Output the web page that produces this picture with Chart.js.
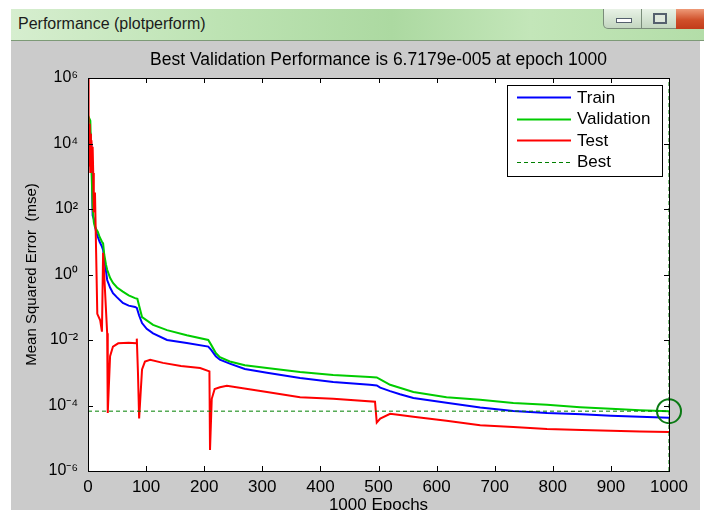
<!DOCTYPE html>
<html>
<head>
<meta charset="utf-8">
<title>Performance (plotperform)</title>
<script src="https://cdn.jsdelivr.net/npm/chart.js@4.4.1/dist/chart.umd.min.js"></script>
<style>
  html, body { margin: 0; padding: 0; background: #fff; overflow: hidden; }
  body { width: 704px; height: 510px; position: relative; font-family: "Liberation Sans", Arial, sans-serif; }
  .titlebar {
    position: absolute; left: 11px; top: 9px; width: 693px; height: 31px;
    background: linear-gradient(90deg, #d6eecf 0%, #bde3b3 30%, #acd9a1 55%, #c3e6b9 75%, #b3dda8 100%);
    border-bottom: 1px solid #7d9a77;
  }
  .titlebar span { position: absolute; left: 7px; top: 6px; font-size: 16px; color: #1b1b1b; }
  .btn { position: absolute; top: 0; height: 20px; border: 1px solid #7a8c7a; border-top: none; box-sizing: border-box; }
  .btn.min { left: 592px; width: 39px; border-radius: 0 0 0 5px; background: linear-gradient(#e8f2e6, #c3d6c0); }
  .btn.max { left: 630px; width: 36px; background: linear-gradient(#e8f2e6, #c3d6c0); }
  .btn.close { left: 665px; width: 30px; border: none; background: linear-gradient(#ee9a78, #d0502a 55%, #c23c1a); }
  .btn.min i { position: absolute; left: 12px; top: 9px; width: 14px; height: 3px; border: 1px solid #55606e; background: #fff; }
  .btn.max i { position: absolute; left: 11px; top: 4px; width: 10px; height: 7px; border: 2px solid #55606e; background: #dfe8dd; }
  .figure { position: absolute; left: 11px; top: 41px; width: 689px; height: 469px; background: #cbcbcb; }
  .chart-box { position: absolute; left: 0; top: 0; width: 704px; height: 530px; }
</style>
</head>
<body>
<div class="titlebar"><span>Performance (plotperform)</span>
  <div class="btn min"><i></i></div><div class="btn max"><i></i></div><div class="btn close"></div>
</div>
<div class="figure"></div>
<div class="chart-box"><canvas id="perfChart"></canvas></div>
<script>
// values (epoch, mse)
const trainEpochs = [0, 2, 4, 6, 8, 10, 14, 17, 20, 24, 26, 28, 31, 33, 38, 43, 50, 60, 70, 81, 84, 88, 93, 101, 112, 136, 170, 207, 212, 220, 227, 244, 270, 308, 365, 422, 485, 497, 503, 520, 537, 560, 620, 675, 732, 790, 850, 900, 950, 1000];
const trainMse = [2.5e4, 3.2e4, 2.0e4, 7.9e3, 63, 50, 20, 14, 10, 7.1, 5.6, 2.8, 1.26, 0.68, 0.40, 0.27, 0.20, 0.135, 0.112, 0.102, 0.095, 0.056, 0.033, 0.022, 0.016, 0.010, 8.1e-3, 6.3e-3, 5.0e-3, 3.2e-3, 2.5e-3, 1.9e-3, 1.3e-3, 1.0e-3, 6.9e-4, 5.2e-4, 4.3e-4, 4.1e-4, 3.5e-4, 2.75e-4, 2.2e-4, 1.7e-4, 1.2e-4, 8.7e-5, 6.8e-5, 5.9e-5, 5.4e-5, 4.9e-5, 4.5e-5, 4.2e-5];

const valEpochs = [0, 2, 4, 6, 8, 10, 12, 17, 20, 24, 26, 28, 31, 33, 38, 43, 50, 60, 70, 81, 85, 88, 93, 112, 136, 170, 207, 212, 220, 227, 244, 270, 308, 365, 422, 485, 497, 503, 520, 560, 617, 675, 732, 790, 847, 900, 950, 1000];
const valMse = [4.0e4, 6.0e4, 5.0e4, 1.6e3, 115, 40, 28, 20, 14, 10, 8.9, 4.0, 2.0, 1.4, 0.79, 0.55, 0.40, 0.30, 0.23, 0.19, 0.18, 0.112, 0.050, 0.029, 0.020, 0.014, 0.010, 7.1e-3, 4.0e-3, 3.0e-3, 2.2e-3, 1.7e-3, 1.4e-3, 1.05e-3, 8.5e-4, 7.4e-4, 7.2e-4, 6.3e-4, 4.3e-4, 2.6e-4, 1.8e-4, 1.5e-4, 1.2e-4, 1.05e-4, 8.9e-5, 7.9e-5, 7.2e-5, 6.7179e-5];

const testEpochs = [0, 1, 2, 3, 4, 5, 6, 7, 8, 9, 10, 12, 14, 16, 21, 24, 26, 29, 33, 34, 38, 43, 52, 70, 83, 84, 86, 88, 93, 98, 107, 129, 160, 193, 209, 210, 213, 218, 227, 239, 308, 365, 422, 494, 497, 503, 520, 537, 560, 617, 675, 732, 790, 850, 900, 950, 1000];
const testMse = [1e6, 1.26e3, 4.0e4, 2.0e3, 2.0e4, 1.26e3, 1.26e4, 1.6e3, 7.9e3, 1.26e3, 79, 316, 4.6, 0.063, 0.040, 0.018, 4.6, 0.40, 0.016, 5.9e-5, 3.2e-3, 6.3e-3, 7.9e-3, 8.3e-3, 7.9e-3, 0.011, 1.0e-3, 4.0e-5, 1.26e-3, 2.2e-3, 2.5e-3, 2.0e-3, 1.6e-3, 1.4e-3, 1.1e-3, 4.4e-6, 1.6e-4, 3.2e-4, 3.6e-4, 4.0e-4, 2.6e-4, 1.8e-4, 1.6e-4, 1.3e-4, 3.0e-5, 4.0e-5, 5.6e-5, 5.1e-5, 4.5e-5, 3.4e-5, 2.5e-5, 2.2e-5, 1.9e-5, 1.8e-5, 1.7e-5, 1.6e-5, 1.55e-5];

const bestEpoch = 1000;
const bestMse = 6.7179e-5;
const chartTitle = 'Best Validation Performance is 6.7179e-005 at epoch 1000';
const seriesLabels = ['Train', 'Validation', 'Test', 'Best'];
const xTickValues = [0, 100, 200, 300, 400, 500, 600, 700, 800, 900, 1000];
const yTickValues = [1e-6, 1e-4, 1e-2, 1e0, 1e2, 1e4, 1e6];
const yTickLabels = ['10\u207B\u2076', '10\u207B\u2074', '10\u207B\u00B2', '10\u2070', '10\u00B2', '10\u2074', '10\u2076'];

const FONT = '"Liberation Sans", Arial, sans-serif';

function points(xs, ys) {
  return xs.map((x, i) => ({ x: x, y: ys[i] }));
}

// white axes background, black box, inward tick marks, title over the axes and the legend box
const axesBox = {
  id: 'axesBox',
  beforeDraw(chart) {
    const a = chart.chartArea, c = chart.ctx;
    c.save();
    c.fillStyle = '#fff';
    c.fillRect(a.left, a.top, a.right - a.left, a.bottom - a.top);
    c.fillStyle = '#000';
    c.font = '17.5px ' + FONT;
    c.textAlign = 'center';
    c.textBaseline = 'middle';
    c.fillText(chartTitle, (a.left + a.right) / 2, 60);
    c.restore();
  },
  afterDatasetsDraw(chart) {
    const a = chart.chartArea, c = chart.ctx;
    const xs = chart.scales.x, ys = chart.scales.y;
    c.save();
    c.strokeStyle = '#000';
    c.lineWidth = 1;
    c.beginPath();
    xTickValues.forEach(v => {
      const px = Math.round(xs.getPixelForValue(v)) + 0.5;
      c.moveTo(px, a.bottom); c.lineTo(px, a.bottom - 5);
      c.moveTo(px, a.top); c.lineTo(px, a.top + 5);
    });
    yTickValues.forEach(v => {
      const py = Math.round(ys.getPixelForValue(v)) + 0.5;
      c.moveTo(a.left, py); c.lineTo(a.left + 5, py);
      c.moveTo(a.right, py); c.lineTo(a.right - 5, py);
    });
    c.stroke();
    c.strokeRect(Math.round(a.left) + 0.5, Math.round(a.top) + 0.5, Math.round(a.right - a.left), Math.round(a.bottom - a.top));
    c.restore();
  },
  afterDraw(chart) {
    const c = chart.ctx;
    const bx = 507, by = 85, bw = 155, bh = 91;
    c.save();
    c.fillStyle = '#fff';
    c.fillRect(bx, by, bw, bh);
    c.strokeStyle = '#000';
    c.lineWidth = 1;
    c.strokeRect(bx + 0.5, by + 0.5, bw, bh);
    c.font = '17px ' + FONT;
    c.textBaseline = 'middle';
    c.fillStyle = '#000';
    chart.data.datasets.slice(0, 4).forEach((ds, i) => {
      const y = by + 12 + i * 21.5;
      c.strokeStyle = ds.borderColor;
      c.lineWidth = ds.borderWidth;
      c.setLineDash(ds.borderDash || []);
      c.beginPath();
      c.moveTo(bx + 10, Math.round(y) + 0.5);
      c.lineTo(bx + 64, Math.round(y) + 0.5);
      c.stroke();
      c.fillText(ds.label, bx + 70, y + 1);
    });
    c.restore();
  }
};

const ctx = document.getElementById('perfChart');
new Chart(ctx, {
  type: 'line',
  data: {
    datasets: [
      { label: seriesLabels[0], data: points(trainEpochs, trainMse), borderColor: '#0000ff', borderWidth: 2, order: 4 },
      { label: seriesLabels[1], data: points(valEpochs, valMse), borderColor: '#00cc00', borderWidth: 2, order: 3 },
      { label: seriesLabels[2], data: points(testEpochs, testMse), borderColor: '#ff0000', borderWidth: 2, order: 2 },
      { label: seriesLabels[3], data: [{ x: 0, y: bestMse }, { x: bestEpoch, y: bestMse }], borderColor: '#008000', borderWidth: 1, borderDash: [4, 3], order: 1 },
      { label: 'best epoch', data: [{ x: bestEpoch, y: 1e-6 }, { x: bestEpoch, y: 1e6 }], borderColor: '#008000', borderWidth: 1, borderDash: [4, 3], order: 1, clip: false },
      { label: 'best point', type: 'scatter', data: [{ x: bestEpoch, y: bestMse }], pointRadius: 12, borderWidth: 2, borderColor: '#0b7a14', backgroundColor: 'rgba(0,0,0,0)', order: 0, clip: false }
    ]
  },
  options: {
    responsive: true,
    maintainAspectRatio: false,
    animation: false,
    layout: { padding: { top: 78, left: 0, right: 35, bottom: 0 } },
    elements: { point: { radius: 0 }, line: { tension: 0 } },
    plugins: {
      legend: { display: false },
      tooltip: { enabled: false }
    },
    scales: {
      x: {
        type: 'linear', min: 0, max: 1000,
        afterBuildTicks: s => { s.ticks = xTickValues.map(v => ({ value: v })); },
        afterFit: s => { s.height = 59; },
        grid: { display: false, drawTicks: false },
        border: { display: false },
        ticks: { color: '#000', font: { size: 17, family: FONT }, padding: 6, maxRotation: 0, autoSkip: false, callback: v => String(v) },
        title: { display: true, text: '1000 Epochs', color: '#000', font: { size: 17, family: FONT }, padding: { top: 0, bottom: 14 } }
      },
      y: {
        type: 'logarithmic', min: 1e-6, max: 1e6,
        afterBuildTicks: s => { s.ticks = yTickValues.map(v => ({ value: v })); },
        afterFit: s => { s.width = 88; },
        grid: { display: false, drawTicks: false },
        border: { display: false },
        ticks: { color: '#000', font: { size: 16, family: FONT }, padding: 10, autoSkip: false, callback: (v, i) => yTickLabels[i] },
        title: { display: true, text: 'Mean Squared Error  (mse)', color: '#000', font: { size: 15, family: FONT }, padding: { top: 23, bottom: 0 } }
      }
    }
  },
  plugins: [axesBox]
});
</script>
</body>
</html>
